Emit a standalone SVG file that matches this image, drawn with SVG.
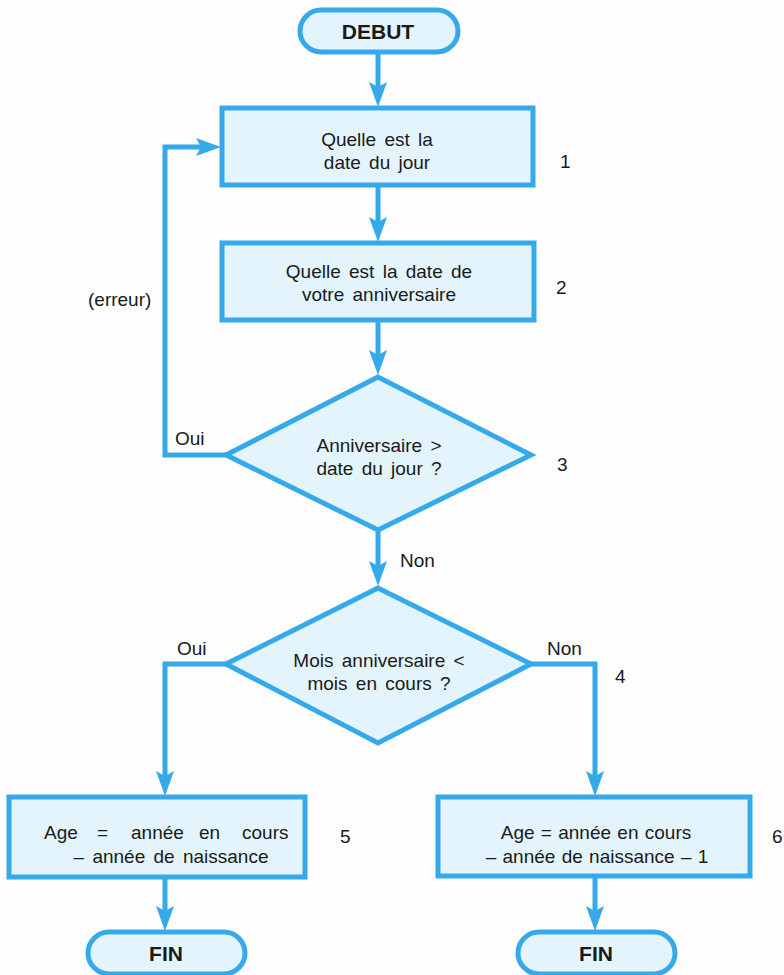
<svg xmlns="http://www.w3.org/2000/svg" width="784" height="975" viewBox="0 0 784 975">
<style>
.node{fill:#e3f4fc;stroke:#36a9ea;stroke-width:5}
.conn{fill:none;stroke:#36a9ea;stroke-width:5}
.t{font-family:"Liberation Sans",Arial,sans-serif;font-size:19px;word-spacing:3px;fill:#1a1a1a;text-anchor:middle}
.b{font-family:"Liberation Sans",Arial,sans-serif;font-size:21px;font-weight:bold;fill:#1a1a1a;text-anchor:middle}
.n{font-family:"Liberation Sans",Arial,sans-serif;font-size:19px;fill:#1a1a1a}
</style>
<defs>
<marker id="arr" markerUnits="userSpaceOnUse" markerWidth="26" markerHeight="18" viewBox="0 0 26 18" refX="14" refY="9" orient="auto">
<path d="M0,0 L25,9 L0,18 L5,9 z" fill="#36a9ea"/>
</marker>
</defs>
<rect width="784" height="975" fill="#fdfdfd"/>
<g id="connectors">
<line class="conn" x1="378" y1="52" x2="378" y2="96" marker-end="url(#arr)"/>
<line class="conn" x1="378" y1="185" x2="378" y2="231" marker-end="url(#arr)"/>
<line class="conn" x1="378" y1="320" x2="378" y2="364" marker-end="url(#arr)"/>
<polyline class="conn" points="226,455 165,455 165,147 210,147" marker-end="url(#arr)"/>
<line class="conn" x1="378" y1="530" x2="378" y2="575" marker-end="url(#arr)"/>
<polyline class="conn" points="226,664 165,664 165,785" marker-end="url(#arr)"/>
<polyline class="conn" points="531,664 595,664 595,785" marker-end="url(#arr)"/>
<line class="conn" x1="165" y1="878" x2="165" y2="920" marker-end="url(#arr)"/>
<line class="conn" x1="595" y1="877" x2="595" y2="920" marker-end="url(#arr)"/>
<text class="n" x="88" y="306">(erreur)</text>
<text class="n" x="175" y="445">Oui</text>
<text class="n" x="400" y="567">Non</text>
<text class="n" x="177" y="655">Oui</text>
<text class="n" x="547" y="655">Non</text>
</g>
<g id="debut">
<rect class="node" x="300" y="10" width="158" height="42" rx="21"/>
<text class="b" x="378" y="39">DEBUT</text>
</g>
<g id="n1">
<rect class="node" x="222" y="108" width="311" height="77"/>
<text class="t" x="377" y="146">Quelle est la</text>
<text class="t" x="377" y="169">date du jour</text>
<text class="n" x="560" y="168">1</text>
</g>
<g id="n2">
<rect class="node" x="222" y="243" width="312" height="77"/>
<text class="t" x="379" y="278">Quelle est la date de</text>
<text class="t" x="379" y="301">votre anniversaire</text>
<text class="n" x="556" y="294">2</text>
</g>
<g id="n3">
<polygon class="node" points="378,377 226,455 378,530 531,455"/>
<text class="t" x="379" y="452">Anniversaire &gt;</text>
<text class="t" x="379" y="475">date du jour ?</text>
<text class="n" x="557" y="471">3</text>
</g>
<g id="n4">
<polygon class="node" points="378,588 226,664 378,743 531,664"/>
<text class="t" x="379" y="667">Mois anniversaire &lt;</text>
<text class="t" x="379" y="690">mois en cours ?</text>
<text class="n" x="615" y="683">4</text>
</g>
<g id="n5">
<rect class="node" x="9" y="797" width="296" height="80"/>
<text class="n" y="839"><tspan x="44">Age</tspan><tspan x="97">=</tspan><tspan x="131">année</tspan><tspan x="199">en</tspan><tspan x="242">cours</tspan></text>
<text class="t" x="171" y="863">– année de naissance</text>
<text class="n" x="340" y="843">5</text>
</g>
<g id="n6">
<rect class="node" x="438" y="797" width="312" height="79"/>
<text class="t" x="596" y="839" style="word-spacing:1px">Age = année en cours</text>
<text class="t" x="597" y="863" style="word-spacing:1px">– année de naissance – 1</text>
<text class="n" x="772" y="843">6</text>
</g>
<g id="fin1">
<rect class="node" x="88" y="932" width="157" height="42" rx="21"/>
<text class="b" x="166" y="961">FIN</text>
</g>
<g id="fin2">
<rect class="node" x="518" y="932" width="157" height="42" rx="21"/>
<text class="b" x="596" y="961">FIN</text>
</g>
</svg>
